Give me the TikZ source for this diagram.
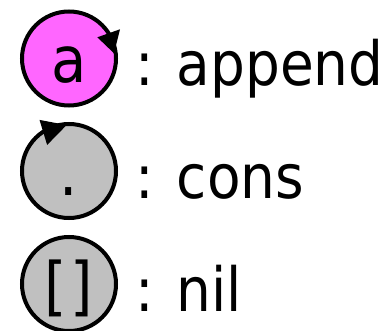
\documentclass[tikz,border=0pt]{standalone}
\usepackage{fontspec}
\setmainfont{DejaVu Sans Condensed}
\usetikzlibrary{positioning, arrows.meta}
\definecolor{appendpink}{RGB}{255,102,255}
\definecolor{opgray}{RGB}{192,192,192}

\begin{document}
\begin{tikzpicture}[
    x=1pt, y=1pt,
    node distance=17pt,
    op/.style={circle, draw, line width=4pt, minimum size=94pt, inner sep=0pt, font=\fontsize{64}{64}\selectfont, text height=48pt, text depth=0pt},
    appendop/.style={op, fill=appendpink},
    consop/.style={op, fill=opgray},
    nilop/.style={op, fill=opgray},
    lbl/.style={inner sep=0pt, font=\fontsize{61}{61}\selectfont, text height=55pt, text depth=0pt},
    turn_tip/.style={fill=black}
]
\useasboundingbox (0,0) rectangle (390,-331);

\node[appendop] (app) at (69,-58.5) {a};
\node[consop] (cons) at (69,-171) {.};
\node[nilop] (nil) at (69,-284) {[\kern4pt]};

\node[lbl, right=of app] (applbl) {: append};
\node[lbl, right=of cons] (conslbl) {: cons};
\node[lbl, right=of nil] (nillbl) {: nil};

% turn markers
\fill[turn_tip, shift={(app.center)}] (36.8:35.4) -- (29.8:58.8) -- (6.6:45.3) -- cycle;
\fill[turn_tip, shift={(cons.center)}] (130:34) -- (120:59) -- (93:46) -- cycle;

\end{tikzpicture}
\end{document}
